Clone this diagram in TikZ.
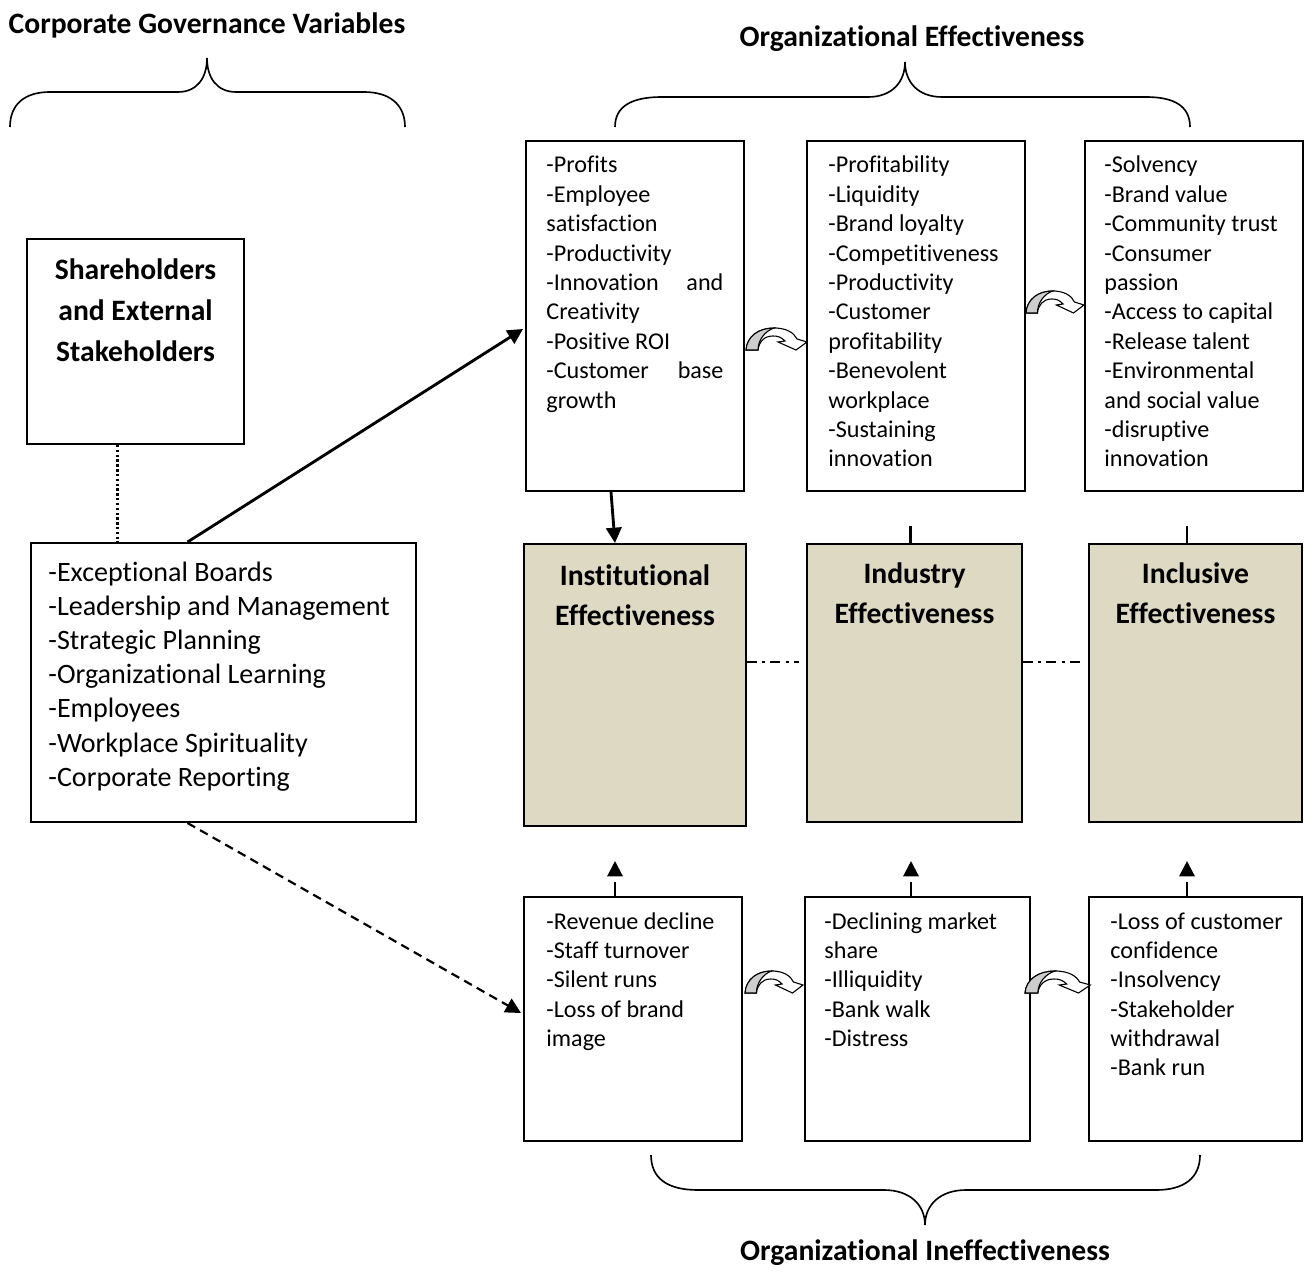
\documentclass[tikz,border=0pt]{standalone}
\usepackage{fontspec}
\setmainfont[Ligatures=NoCommon]{Carlito}
\usetikzlibrary{arrows.meta,fit,calc}

\definecolor{panel}{HTML}{DDD9C3}
\definecolor{underside}{HTML}{CDCDCD}

\newcommand\boxfont{\fontsize{11}{13.4}\selectfont}
\newcommand\listfont{\fontsize{12.8}{15.6}\selectfont}
\newcommand\headfont{\fontsize{13.5}{18.5}\selectfont\bfseries}
\newcommand\titlefont{\fontsize{13.5}{15}\selectfont\bfseries}

\begin{document}
\begin{tikzpicture}[x=0.456pt,y=-0.456pt,
  box/.style={draw, line width=0.9pt, inner sep=0pt},
  panelbox/.style={box, fill=panel},
  txt/.style={anchor=base west, inner sep=0pt},
  head/.style={anchor=base, inner sep=0pt},
  title/.style={anchor=base, inner sep=0pt, font=\titlefont},
  tip/.style={-{Triangle[length=7pt,width=7pt]}},
  solidarrow/.style={tip, line width=1.3pt},
  dasharrow/.style={tip, line width=1pt, dash pattern=on 4pt off 2.6pt},
  uparrow/.style={tip, line width=1pt, dash pattern=on 6.4pt off 3pt},
  stub/.style={line width=1.3pt},
  dotline/.style={line width=1.1pt, dash pattern=on 1.1pt off 1.1pt},
  dashdot/.style={line width=0.9pt, dash pattern=on 4.5pt off 2.4pt on 1.4pt off 2.4pt},
  brace/.style={line width=0.75pt},
  bendarrow/.pic={
    \draw[line width=0.5pt, fill=white]
      (0,0) .. controls (1,-14) and (13,-22) .. (28,-22)
            .. controls (41,-22) and (48,-17) .. (51,-11)
            -- (61,-8) -- (50,0) -- (32,-8) -- (39,-9)
            .. controls (35,-13) and (32,-14) .. (27,-14)
            .. controls (18,-14) and (13,-8) .. (12,0) -- cycle;
    \draw[line width=0.5pt, fill=underside]
      (0,0) .. controls (1,-14) and (13,-22) .. (28,-22)
            .. controls (19,-19) and (12,-10) .. (12,0) -- cycle;
  }
]
\useasboundingbox (0,0) rectangle (1313,1271);

% ---- titles -------------------------------------------------------------
\node[title] (tcg) at (207,33.5) {Corporate Governance Variables};
\node[title] (toe) at (912,46.5) {Organizational Effectiveness};
\node[title] (toi) at (925,1260.5) {Organizational Ineffectiveness};

% ---- braces -------------------------------------------------------------
\draw[brace] (10,127) .. controls (10,104) and (25,92) .. (50,92) -- (178,92)
  .. controls (197,92) and (207,78) .. (207,58)
  .. controls (207,78) and (217,92) .. (236,92) -- (364,92)
  .. controls (389,92) and (405,104) .. (405,127);
\draw[brace] (615,127) .. controls (615,106) and (632,97) .. (662,97) -- (868,97)
  .. controls (892,97) and (905,82) .. (905,62)
  .. controls (905,82) and (918,97) .. (942,97) -- (1146,97)
  .. controls (1174,97) and (1190,106) .. (1190,127);
\draw[brace] (651,1155) .. controls (651,1178) and (667,1190) .. (698,1190) -- (884,1190)
  .. controls (910,1190) and (925,1205) .. (925,1225)
  .. controls (925,1205) and (940,1190) .. (966,1190) -- (1156,1190)
  .. controls (1184,1190) and (1200,1178) .. (1200,1155);

% ---- governance side ----------------------------------------------------
\node[box, fit={(27,239) (244,444)}] (S) {};
\node[head] (Stxt) at (135.5,280) {\parbox[t]{110pt}{\centering\headfont Shareholders\\and External\\Stakeholders}};

\node[box, fit={(31,543) (416,822)}] (L) {};
\node[txt] (Ltxt) at (48,581) {\parbox[t]{180pt}{\listfont\raggedright
  -Exceptional Boards\\
  -Leadership and Management\\
  -Strategic Planning\\
  -Organizational Learning\\
  -Employees\\
  -Workplace Spirituality\\
  -Corporate Reporting}};

% ---- effectiveness outcomes ---------------------------------------------
\node[box, fit={(526,141) (744,491)}] (A) {};
\node[txt] (Atxt) at (546,173) {\parbox[t]{80.7pt}{\boxfont\raggedright
  -Profits\\
  -Employee\\
  satisfaction\\
  -Productivity\\
  -Innovation\hfill and\\
  Creativity\\
  -Positive ROI\\
  -Customer\hfill base\\
  growth}};

\node[box, fit={(807,141) (1025,491)}] (B) {};
\node[txt] (Btxt) at (828,173) {\parbox[t]{90pt}{\boxfont\raggedright
  -Profitability\\
  -Liquidity\\
  -Brand loyalty\\
  -Competitiveness\\
  -Productivity\\
  -Customer\\
  profitability\\
  -Benevolent\\
  workplace\\
  -Sustaining\\
  innovation}};

\node[box, fit={(1085,141) (1303,491)}] (C) {};
\node[txt] (Ctxt) at (1104,173) {\parbox[t]{90pt}{\boxfont\raggedright
  -Solvency\\
  -Brand value\\
  -Community trust\\
  -Consumer\\
  passion\\
  -Access to capital\\
  -Release talent\\
  -Environmental\\
  and social value\\
  -disruptive\\
  innovation}};

% ---- effectiveness levels -----------------------------------------------
\node[panelbox, fit={(524,544) (746,826)}] (I) {};
\node[head] (Itxt) at (635,585) {\parbox[t]{110pt}{\centering\headfont Institutional\\Effectiveness}};
\node[panelbox, fit={(807,544) (1022,822)}] (N) {};
\node[head] (Ntxt) at (914.5,583) {\parbox[t]{110pt}{\centering\headfont Industry\\Effectiveness}};
\node[panelbox, fit={(1089,544) (1302,822)}] (X) {};
\node[head] (Xtxt) at (1195.5,583) {\parbox[t]{110pt}{\centering\headfont Inclusive\\Effectiveness}};

% ---- ineffectiveness outcomes -------------------------------------------
\node[box, fit={(524,897) (742,1141)}] (D) {};
\node[txt] (Dtxt) at (546,929) {\parbox[t]{90pt}{\boxfont\raggedright
  -Revenue decline\\
  -Staff turnover\\
  -Silent runs\\
  -Loss of brand\\
  image}};

\node[box, fit={(805,897) (1030,1141)}] (E) {};
\node[txt] (Etxt) at (824,929) {\parbox[t]{95pt}{\boxfont\raggedright
  -Declining market\\
  share\\
  -Illiquidity\\
  -Bank walk\\
  -Distress}};

\node[box, fit={(1089,897) (1302,1141)}] (F) {};
\node[txt] (Ftxt) at (1110,929) {\parbox[t]{95pt}{\boxfont\raggedright
  -Loss of customer\\
  confidence\\
  -Insolvency\\
  -Stakeholder\\
  withdrawal\\
  -Bank run}};

% ---- connectors ---------------------------------------------------------
\draw[dotline] ($(S.south)+(-18,0)$) coordinate (sd) -- (sd |- L.north);
\draw[solidarrow] ($(L.north)+(-36,0)$) -- ($(A.west)+(-2,13)$);
\draw[dasharrow] ($(L.south)+(-36,0)$) -- ($(D.west)+(-2,-6)$);
\draw[solidarrow] ($(A.south)+(-24,0)$) -- ($(I.north)+(-20,0)$);

\draw[stub] ($(N.north)+(-4,-17)$) coordinate (ns) -- (ns |- N.north);
\draw[stub] ($(X.north)+(-8.5,-17)$) coordinate (xs) -- (xs |- X.north);

\draw[dashdot] ($(I.east)+(0,-23)$) -- ++(52,0) coordinate (ie);
\draw[dashdot] ($(N.east)+(0,-21)$) -- ++(62,0) coordinate (ne);

\draw[uparrow] ($(D.north)+(-18,0)$) coordinate (du) -- ++(0,-35);
\draw[uparrow] ($(E.north)+(-6.5,0)$) coordinate (eu) -- ++(0,-35);
\draw[uparrow] ($(F.north)+(-8.5,0)$) coordinate (fu) -- ++(0,-35);

% ---- sequence markers between outcome boxes ------------------------------
\pic at (746,350) {bendarrow};
\pic[xscale=0.95] at (1026,313) {bendarrow};
\pic[xscale=0.95] at (745,993) {bendarrow};
\pic[xscale=1.07] at (1025,993) {bendarrow};

\end{tikzpicture}
\end{document}
